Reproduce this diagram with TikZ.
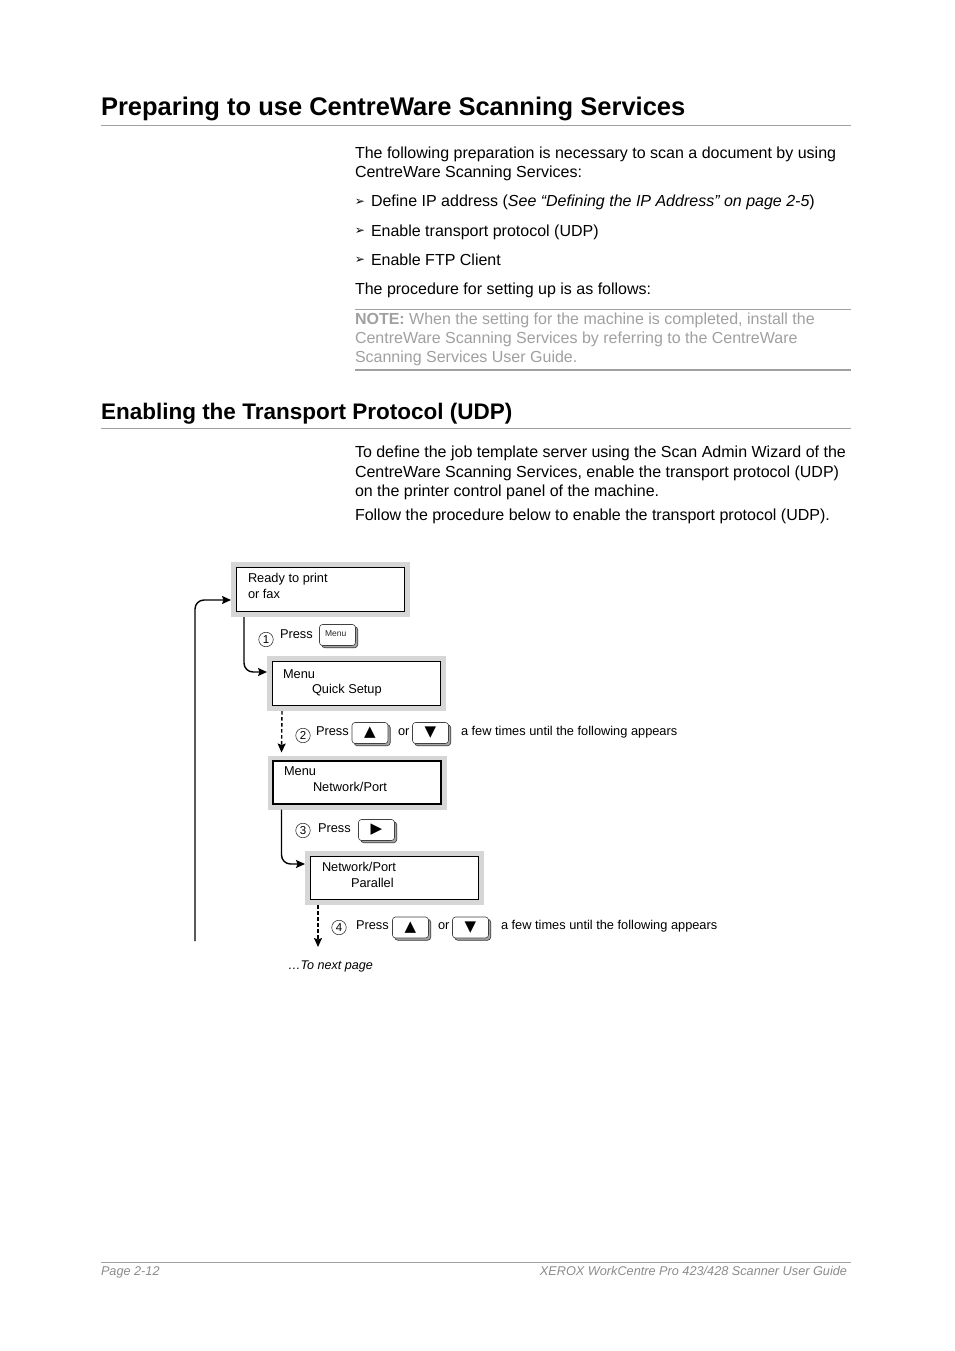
\documentclass[tikz,border=0pt]{standalone}
\usepackage{fontspec}
\setmainfont{Liberation Sans}
\newfontfamily\symfont{DejaVu Sans}
\usetikzlibrary{arrows.meta,calc,shadows}
\definecolor{rulegray}{RGB}{160,160,160}
\definecolor{notegray}{RGB}{160,160,160}
\definecolor{footgray}{RGB}{140,140,140}
\definecolor{lcdgray}{RGB}{214,214,214}
\begin{document}
\begin{tikzpicture}[x=1pt,y=-1pt,
  every node/.style={inner sep=0pt, outer sep=0pt},
  body/.style={anchor=base west, font=\fontsize{16}{18}\selectfont},
  note/.style={body, text=notegray},
  small/.style={anchor=base west, font=\fontsize{12.8}{14}\selectfont},
  circnum/.style={circle, draw=black!85, line width=0.55pt, minimum size=14.5pt,
    font=\fontsize{11.5}{12}\selectfont},
  bul/.style={font=\symfont\fontsize{12}{12}\selectfont},
  lcd/.style={fill=lcdgray, minimum width=179pt, minimum height=55pt,
    path picture={\draw[line width=1.4pt, fill=white]
      ($(path picture bounding box.north west)+(5.5pt,-5.5pt)$) rectangle
      ($(path picture bounding box.south east)+(-5.5pt,5.5pt)$);}},
  btn/.style={draw=black!75, line width=0.6pt, fill=white, rounded corners=3pt,
    minimum width=36pt, minimum height=21pt,
    drop shadow={shadow xshift=2.2pt, shadow yshift=-2.2pt, fill=black!35,
      draw=black!80, opacity=1}},
  tri/.style={font=\symfont\fontsize{15}{15}\selectfont},
  conn/.style={line width=1.4pt, rounded corners=9pt,
    -{Stealth[length=9pt,width=8pt,inset=1.5pt]}},
  dconn/.style={line width=1.4pt, dash pattern=on 3.5pt off 2.5pt,
    -{Stealth[length=9pt,width=8pt,inset=1.5pt]}}
]
\useasboundingbox (0,0) rectangle (954,1351);
\fill[white] (0,0) rectangle (954,1351);

% ---------- titles and text ----------
\node[anchor=base west, font=\bfseries\fontsize{25.5}{28}\selectfont] (t1) at (101,116) {Preparing to use CentreWare Scanning Services};
\draw[rulegray, line width=0.8pt] (101,125.5) -- (851,125.5);

\node[body] (p1) at (355,158.5) {The following preparation is necessary to scan a document by using};
\node[body] (p2) at (355,178) {CentreWare Scanning Services:};
\node[body] (bu1) at (371,207) {Define IP address ({\itshape See “Defining the IP Address” on page 2-5})};
\node[body] (bu2) at (371,236) {Enable transport protocol (UDP)};
\node[body] (bu3) at (371,265) {Enable FTP Client};
\node[bul] (m1) at (360,202) {➢};
\node[bul] (m2) at (360,231) {➢};
\node[bul] (m3) at (360,260) {➢};
\node[body] (p3) at (355,294) {The procedure for setting up is as follows:};

\draw[rulegray, line width=0.7pt] (355,309.5) -- (851,309.5);
\node[note] (n1) at (355,324) {\bfseries NOTE:\mdseries\ When the setting for the machine is completed, install the};
\node[note] (n2) at (355,343) {CentreWare Scanning Services by referring to the CentreWare};
\node[note] (n3) at (355,362) {Scanning Services User Guide.};
\draw[rulegray, line width=1.8pt] (355,370) -- (851,370);

\node[anchor=base west, font=\bfseries\fontsize{22.5}{25}\selectfont] (t2) at (101,419) {Enabling the Transport Protocol (UDP)};
\draw[rulegray, line width=0.8pt] (101,428.5) -- (851,428.5);

\node[body] (q1) at (355,457) {To define the job template server using the Scan Admin Wizard of the};
\node[body] (q2) at (355,477) {CentreWare Scanning Services, enable the transport protocol (UDP)};
\node[body] (q3) at (355,496) {on the printer control panel of the machine.};
\node[body] (q4) at (355,520) {Follow the procedure below to enable the transport protocol (UDP).};

% ---------- diagram ----------
\node[lcd] (b1) at (320.5,589.5) {};
\node[small] (b1a) at (248,582) {Ready to print};
\node[small] (b1b) at (248,598) {or fax};

\node[circnum] (s1) at (266,639.5) {1};
\node[small] (s1p) at (280,638.5) {Press};
\node[btn] (k1) at (337.5,635) {};
\node[anchor=base west, font=\fontsize{8.5}{9}\selectfont, text=black!85] (k1t) at (325,636) {Menu};

\node[lcd] (b2) at (356.5,683.5) {};
\node[small] (b2a) at (283,678) {Menu};
\node[small] (b2b) at (312,693) {Quick Setup};

\node[circnum] (s2) at (303,735.5) {2};
\node[small] (s2p) at (316,735.5) {Press};
\node[btn] (k2) at (370,733) {};
\node[tri] at (k2) {▲};
\node[small] (s2o) at (398,735.5) {or};
\node[btn] (k3) at (430.5,733) {};
\node[tri] at (k3) {▼};
\node[small] (s2t) at (461,735.5) {a few times until the following appears};

\node[lcd, minimum height=54pt] (b3) at (357,782.5) {};
\node[small] (b3a) at (284,775.5) {Menu};
\node[small] (b3b) at (313,791.5) {Network/Port};

\node[circnum] (s3) at (303,830.5) {3};
\node[small] (s3p) at (318,832.5) {Press};
\node[btn] (k4) at (376.5,830) {};
\node[tri] at (k4) {▶};

\node[lcd, minimum height=54pt] (b4) at (394.5,878) {};
\node[small] (b4a) at (322,871.5) {Network/Port};
\node[small] (b4b) at (351,887.5) {Parallel};

\node[circnum] (s4) at (339,927.5) {4};
\node[small] (s4p) at (356,929.5) {Press};
\node[btn] (k5) at (410.5,927.5) {};
\node[tri] at (k5) {▲};
\node[small] (s4o) at (438,929.5) {or};
\node[btn] (k6) at (470.5,927.5) {};
\node[tri] at (k6) {▼};
\node[small] (s4t) at (501,929.5) {a few times until the following appears};

\node[anchor=base west, font=\itshape\fontsize{12.6}{14}\selectfont] (nx) at (288,969.5) {…To next page};

% connectors
\coordinate (loopend) at (195,941);
\coordinate (d2end) at (318,947);
\draw[conn] (loopend) |- ([yshift=-10.5pt]b1.west);
\draw[conn] ([xshift=13pt]b1.south west) |- ([yshift=11.5pt]b2.west);
\draw[dconn, shorten >=3pt] ([xshift=15pt]b2.south west) -- ([xshift=14pt]b3.north west);
\draw[conn] ([xshift=14pt]b3.south west) |- ([yshift=14pt]b4.west);
\draw[dconn] ([xshift=13pt]b4.south west) -- (d2end);

% ---------- footer ----------
\draw[rulegray, line width=1pt] (101,1262.5) -- (851,1262.5);
\node[anchor=base west, font=\itshape\fontsize{12.7}{14}\selectfont, text=footgray] (f1) at (101,1275) {Page 2-12};
\node[anchor=base east, font=\itshape\fontsize{12.7}{14}\selectfont, text=footgray] (f2) at (847,1275) {XEROX WorkCentre Pro 423/428 Scanner User Guide};
\end{tikzpicture}
\end{document}
